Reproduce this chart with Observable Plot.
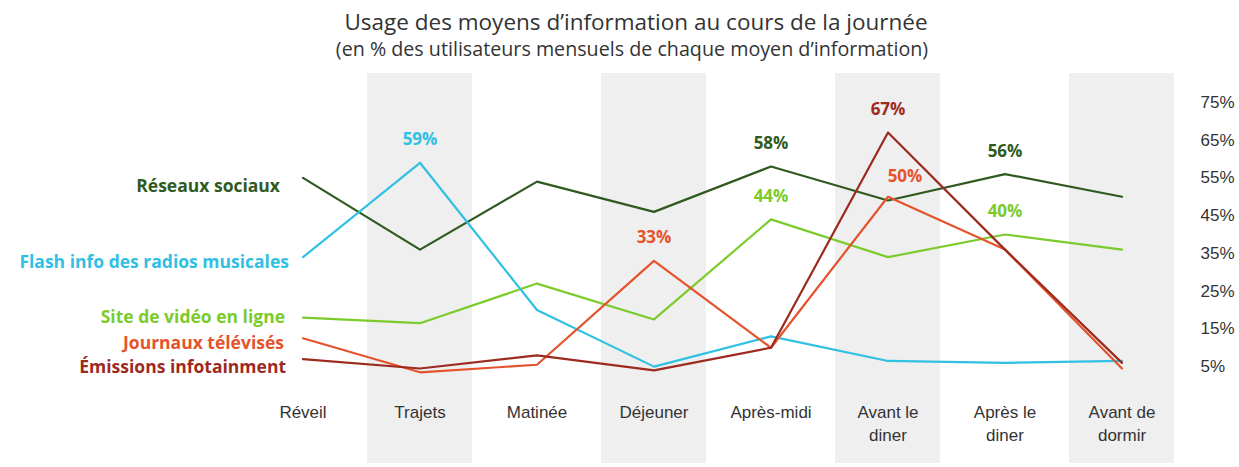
<!DOCTYPE html>
<html><head><meta charset="utf-8">
<script src="https://cdn.jsdelivr.net/npm/d3@7"></script>
<script src="https://cdn.jsdelivr.net/npm/@observablehq/plot@0.6"></script>
<style>
body{margin:0;background:#fff;width:1239px;height:467px;overflow:hidden;}
#head{position:relative;height:70px;}
#head div{position:absolute;white-space:nowrap;transform:translateX(-50%);font-family:"Open Sans",sans-serif;color:#333;}
#t1{left:636px;top:6px;font-size:22.5px;}
#t2{left:632px;top:35px;font-size:19.7px;}
#chart svg{display:block;}
</style>
</head><body>
<div id="head"><div id="t1">Usage des moyens d’information au cours de la journée</div><div id="t2">(en % des utilisateurs mensuels de chaque moyen d’information)</div></div>
<div id="chart"></div>
<script>
const categories = ["Réveil","Trajets","Matinée","Déjeuner","Après-midi","Avant le diner","Après le diner","Avant de dormir"];
const tickLabels = ["Réveil","Trajets","Matinée","Déjeuner","Après-midi","Avant le\ndiner","Après le\ndiner","Avant de\ndormir"];
const shadedCategories = ["Trajets","Déjeuner","Avant le diner","Avant de dormir"];
const yTicks = [5,15,25,35,45,55,65,75];

const seriesNames = ["Réseaux sociaux","Site de vidéo en ligne","Flash info des radios musicales","Journaux télévisés","Émissions infotainment"];
const reseauxSociaux = [55,36,54,46,58,49,56,50];
const siteVideo = [18,16.5,27,17.5,44,34,40,36];
const flashInfo = [34,59,20,5,13,6.5,6,6.5];
const journauxTV = [12.5,3.5,5.5,33,10,50,36,4.5];
const emissionsInfo = [7,4.5,8,4,10,67,36,6];
const seriesColors = ["#2f5a1e","#7bcb2a","#2fc0e3","#e4532b","#9c2a1f"];

// labelled points: [series, category]
const annotatedSeries = ["Flash info des radios musicales","Réseaux sociaux","Site de vidéo en ligne","Journaux télévisés","Émissions infotainment","Réseaux sociaux","Site de vidéo en ligne"];
const annotatedCategories = ["Trajets","Après-midi","Après-midi","Déjeuner","Avant le diner","Après le diner","Après le diner"];
const shiftedSeries = ["Journaux télévisés"];
const shiftedCategories = ["Avant le diner"];

const valuesBySeries = [reseauxSociaux, siteVideo, flashInfo, journauxTV, emissionsInfo];
const rows = [];
seriesNames.forEach((s, i) => categories.forEach((c, j) => rows.push({series: s, cat: c, value: valuesBySeries[i][j]})));
const colorOf = s => seriesColors[seriesNames.indexOf(s)];
const valueOf = (s, c) => valuesBySeries[seriesNames.indexOf(s)][categories.indexOf(c)];
const ann = annotatedSeries.map((s, i) => ({series: s, cat: annotatedCategories[i], value: valueOf(s, annotatedCategories[i])}));
const annShift = shiftedSeries.map((s, i) => ({series: s, cat: shiftedCategories[i], value: valueOf(s, shiftedCategories[i])}));

const labelNudge = {"Réseaux sociaux": 9, "Flash info des radios musicales": 5, "Site de vidéo en ligne": 0, "Journaux télévisés": 5, "Émissions infotainment": 8};
const labelDx = {"Réseaux sociaux": -23, "Flash info des radios musicales": -14, "Site de vidéo en ligne": -18, "Journaux télévisés": -19, "Émissions infotainment": -17};

const labelMarks = seriesNames.map(s => Plot.text([{series: s, cat: categories[0], value: valueOf(s, categories[0])}], {
  x: "cat", y: "value", text: "series", textAnchor: "end", dx: labelDx[s], dy: labelNudge[s],
  fill: colorOf(s), fontWeight: "bold", fontSize: 17.5, fontFamily: "Open Sans"
}));

const chart = Plot.plot({
  width: 1239, height: 397,
  marginLeft: 247, marginRight: 61, marginTop: 13, marginBottom: 82,
  style: {background: "transparent"},
  x: {domain: categories, type: "band", paddingInner: 0.1, paddingOuter: 0, axis: null, label: null},
  y: {domain: [0, 80], axis: null, label: null},
  marks: [
    Plot.cell(shadedCategories, {x: d => d, fill: "#efefef", insetTop: -10, insetBottom: -78}),
    Plot.axisX({label: null, tickSize: 0, tickPadding: 16, tickFormat: d => tickLabels[categories.indexOf(d)], fontSize: 17, fontFamily: "Liberation Sans", fill: "#333", lineHeight: 1.35}),
    Plot.axisY({label: null, anchor: "right", ticks: yTicks, tickSize: 0, tickPadding: 22, tickFormat: d => d + "%", fontSize: 17, fontFamily: "Liberation Sans", fill: "#333", textAnchor: "start"}),
    Plot.line(rows, {x: "cat", y: "value", z: "series", stroke: d => colorOf(d.series), strokeWidth: 2.2}),
    Plot.text(ann, {x: "cat", y: "value", text: d => Math.round(d.value) + "%", dy: -23, fill: d => colorOf(d.series), fontWeight: "bold", fontSize: 17, fontFamily: "Open Sans"}),
    Plot.text(annShift, {x: "cat", y: "value", text: d => Math.round(d.value) + "%", dx: 17, dy: -20, fill: d => colorOf(d.series), fontWeight: "bold", fontSize: 17, fontFamily: "Open Sans"}),
    ...labelMarks
  ]
});
document.getElementById("chart").appendChild(chart);
</script>
</body></html>
